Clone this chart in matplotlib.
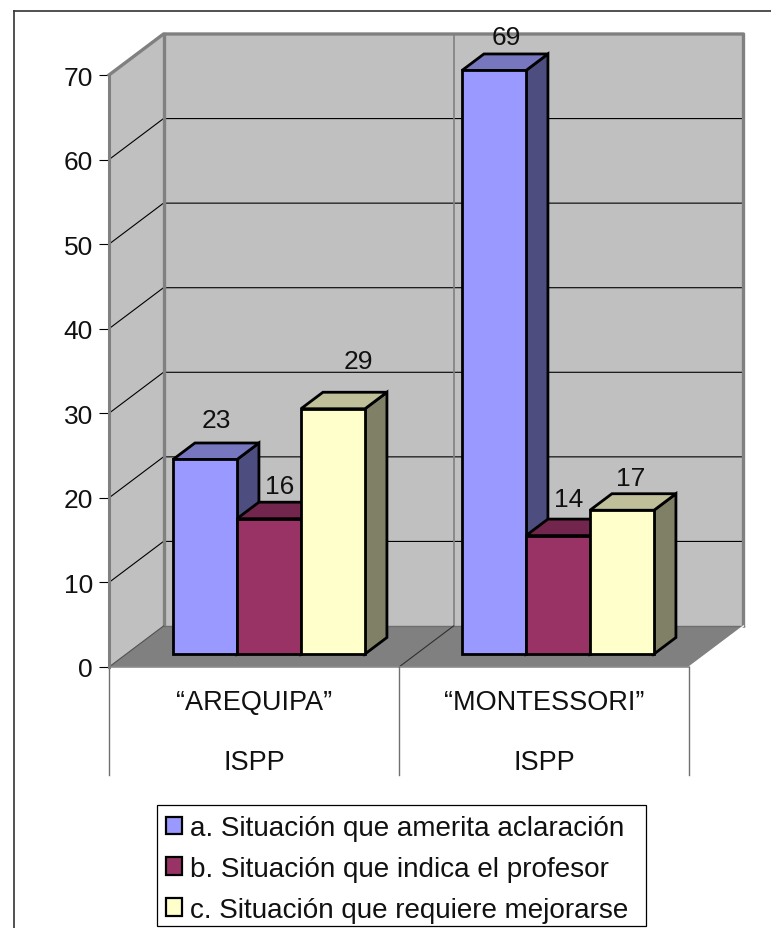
import matplotlib
matplotlib.use("Agg")
import matplotlib.pyplot as plt
from matplotlib.patches import Polygon, Patch, Rectangle
from matplotlib.lines import Line2D

plt.rcParams['font.family'] = ['Liberation Sans', 'DejaVu Sans']

categories = ["“AREQUIPA”\n\nISPP", "“MONTESSORI”\n\nISPP"]
series_names = ["a. Situación que amerita aclaración",
                "b. Situación que indica el profesor",
                "c. Situación que requiere mejorarse"]
series_a = [23, 69]
series_b = [16, 14]
series_c = [29, 17]
series_values = [series_a, series_b, series_c]
yticks = [0, 10, 20, 30, 40, 50, 60, 70]

front_colors = ["#9999ff", "#993366", "#ffffcc"]
top_colors = ["#7777bf", "#73264d", "#bfbf99"]
side_colors = ["#4d4d80", "#4d1a33", "#808066"]

# pixel layout
W, H = 771, 929
L, R, B, T = 109, 689, 668, 76
DX_PX, DY_PX = 54.5, 41.0
ux = (R - L) / 2
uy = (B - T) / 70

fig = plt.figure(figsize=(W / 100, H / 100), dpi=100, facecolor="white")
ax = fig.add_axes([L / W, 1 - B / H, (R - L) / W, (B - T) / H])
ax.set_xlim(0, 2)
ax.set_ylim(0, 70)
ax.patch.set_visible(False)
for s in ["top", "right", "bottom"]:
    ax.spines[s].set_visible(False)
ax.spines["left"].set_color("#808080")
ax.spines["left"].set_linewidth(2.2)
ax.spines["left"].set_zorder(3)


def P(x, y, d=0.0):
    """Category/value point pushed d (0..1) into the depth of the chart."""
    return (x + d * DX_PX / ux, y + d * DY_PX / uy)


def poly(pts, fc, ec="none", lw=0.0, z=1):
    ax.add_patch(Polygon(pts, closed=True, facecolor=fc, edgecolor=ec, linewidth=lw,
                         joinstyle="miter", clip_on=False, zorder=z))


def line(pts, c, lw, z=2):
    ax.add_line(Line2D([p[0] for p in pts], [p[1] for p in pts], color=c, linewidth=lw,
                       clip_on=False, zorder=z, solid_capstyle="projecting"))


# walls and floor
poly([P(0, 0), P(0, 70), P(0, 70, 1), P(0, 0, 1)], "#c0c0c0")
poly([P(0, 0, 1), P(0, 70, 1), P(2, 70, 1), P(2, 0, 1)], "#c0c0c0")
poly([P(0, 0), P(2, 0), P(2, 0, 1), P(0, 0, 1)], "#808080")

for v in yticks[1:-1]:
    line([P(0, v), P(0, v, 1), P(2, v, 1)], "black", 0.8)
line([P(1, 0, 1), P(1, 70, 1)], "#808080", 1.2)
line([P(0, 70), P(0, 70, 1), P(2, 70, 1), P(2, 0, 1)], "#808080", 2.4)
line([P(0, 0, 1), P(0, 70, 1)], "#808080", 2.4)
line([P(0, 0, 1), P(2, 0, 1)], "#6e6e6e", 1.0)
line([P(0, 0), P(0, 0, 1)], "#505050", 0.8)
line([P(1, 0), P(1, 0, 1)], "#303030", 0.8)
line([P(2, 0), P(2, 0, 1)], "white", 1.0)
line([P(0, 0), P(2, 0)], "#8c8c8c", 1.2)

# bars
d0 = 13 / DY_PX
dd = 16.5 / DY_PX
bar_w = (301 - 237) / ux
group_start = [(173 - L - d0 * DX_PX) / ux, (462 - L - d0 * DX_PX) / ux]
EC = "black"
LW = 2.0

label_dx = [[11, 12.5], [11, 11], [25, 8.5]]
label_dy = [[39, 33], [33, 37], [48, 32]]

for g in range(2):
    for i, vals in enumerate(series_values):
        v = vals[g]
        x0 = group_start[g] + i * bar_w
        x1 = x0 + bar_w
        z = 4 + i + 4 * g
        poly([P(x1, 0, d0), P(x1, v, d0), P(x1, v, d0 + dd), P(x1, 0, d0 + dd)],
             side_colors[i], EC, LW, z)
        poly([P(x0, v, d0), P(x1, v, d0), P(x1, v, d0 + dd), P(x0, v, d0 + dd)],
             top_colors[i], EC, LW, z)
        poly([P(x0, 0, d0), P(x1, 0, d0), P(x1, v, d0), P(x0, v, d0)],
             front_colors[i], EC, LW, z)
        cx, cy = P((x0 + x1) / 2, v, d0)
        ax.annotate(str(v), (cx, cy), xytext=(label_dx[i][g] * 0.72, label_dy[i][g] * 0.72),
                    textcoords="offset points", ha="center", va="center",
                    fontsize=19, color="#111111", zorder=30, annotation_clip=False)

# axes furniture
ax.set_yticks(yticks)
ax.set_xticks([0.5, 1.5])
ax.set_xticklabels(categories, fontsize=19.5, linespacing=1.2, color="#111111")
ax.tick_params(axis="x", length=0, pad=16)
ax.tick_params(axis="y", length=7.2, width=0.8, color="black", pad=4.3,
               labelsize=19, labelcolor="#111111")

sep_bottom = -(776 - B) / uy
for x in [0, 1, 2]:
    line([(x, 0), (x, sep_bottom)], "#707070", 1.0, z=2)

# legend
fig.add_artist(Rectangle((157 / W, 1 - 927 / H), (646 - 157) / W, (927 - 806) / H,
                         transform=fig.transFigure, facecolor="white",
                         edgecolor="black", linewidth=0.9, zorder=5))
handles = [Patch(facecolor=c, edgecolor="black", linewidth=1.6) for c in front_colors]
leg = fig.legend(handles, series_names, loc="upper left",
                 bbox_to_anchor=(158 / W, 1 - 808 / H), fontsize=20.1,
                 frameon=False,
                 handlelength=0.55, handleheight=0.6, handletextpad=0.3,
                 labelspacing=0.53, borderpad=0.3, borderaxespad=0)
leg.set_zorder(6)
for t in leg.get_texts():
    t.set_color("#111111")

# outer chart border
for xs, ys in [([14, 14], [12, H]), ([14, W], [12, 12])]:
    fig.add_artist(Line2D([x / W for x in xs], [1 - y / H for y in ys],
                          color="#333333", linewidth=1.2))

fig.savefig("out.png", dpi=100, facecolor="white")
